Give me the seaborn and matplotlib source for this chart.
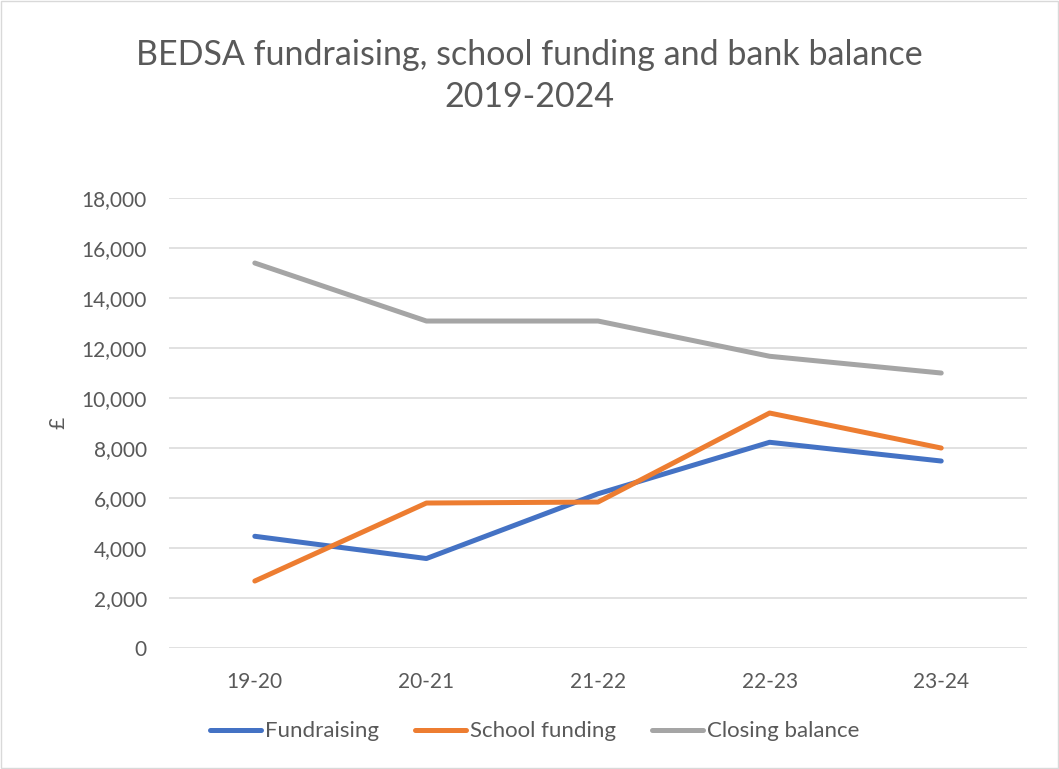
import pandas as pd
import seaborn as sns
import matplotlib.pyplot as plt
from matplotlib.patches import Rectangle
from matplotlib.ticker import FuncFormatter

# chart values
years = ['19-20', '20-21', '21-22', '22-23', '23-24']
fundraising = [4470, 3580, 6170, 8230, 7480]
school_funding = [2680, 5800, 5840, 9400, 8000]
closing_balance = [15400, 13080, 13080, 11670, 11000]

series_names = ['Fundraising', 'School funding', 'Closing balance']
series_colors = ['#4472C4', '#ED7D31', '#A5A5A5']

df = pd.DataFrame({
    'year': years * 3,
    'series': [series_names[0]] * 5 + [series_names[1]] * 5 + [series_names[2]] * 5,
    'value': fundraising + school_funding + closing_balance,
})

sns.set_style("white")
plt.rcParams['font.family'] = ['Lato', 'DejaVu Sans']

fig = plt.figure(figsize=(10.59, 7.69), dpi=100)
ax = fig.add_axes([0.1596, 0.1573, 0.8102, 0.5852])

sns.lineplot(data=df, x='year', y='value', hue='series', palette=series_colors,
             linewidth=3.6, ax=ax, sort=False, solid_capstyle='round')

ax.set_xlim(-0.5, 4.5)
ax.set_ylim(0, 18000)
ax.set_yticks(range(0, 18001, 2000))
ax.yaxis.set_major_formatter(FuncFormatter(lambda v, p: f'{int(v):,}'))
ax.grid(axis='y', color='#D9D9D9', linewidth=1.1)
ax.set_axisbelow(True)
for s in ax.spines.values():
    s.set_visible(False)
ax.tick_params(axis='both', length=0, labelsize=15, colors='#595959')
ax.tick_params(axis='y', pad=16)
ax.tick_params(axis='x', pad=17)
ax.set_xlabel('')
ax.set_ylabel('')
fig.text(0.0548, 0.45, '£', rotation=90, ha='center', va='center',
         fontsize=15, color='#595959')

fig.text(0.5, 0.901, 'BEDSA fundraising, school funding and bank balance\n2019-2024',
         ha='center', va='center', fontsize=24.5, color='#595959', linespacing=1.4)

handles, labels = ax.get_legend_handles_labels()
ax.legend_.remove()
fig.legend(handles, labels, loc='center', bbox_to_anchor=(0.505, 0.049), ncol=3,
           frameon=False, fontsize=16, handlelength=2.3, handletextpad=0.2,
           columnspacing=1.6, labelcolor='#595959')

fig.add_artist(Rectangle((0.001, 0.001), 0.998, 0.998, transform=fig.transFigure,
                         fill=False, edgecolor='#D9D9D9', linewidth=1))

fig.savefig('out.png', dpi=100)
